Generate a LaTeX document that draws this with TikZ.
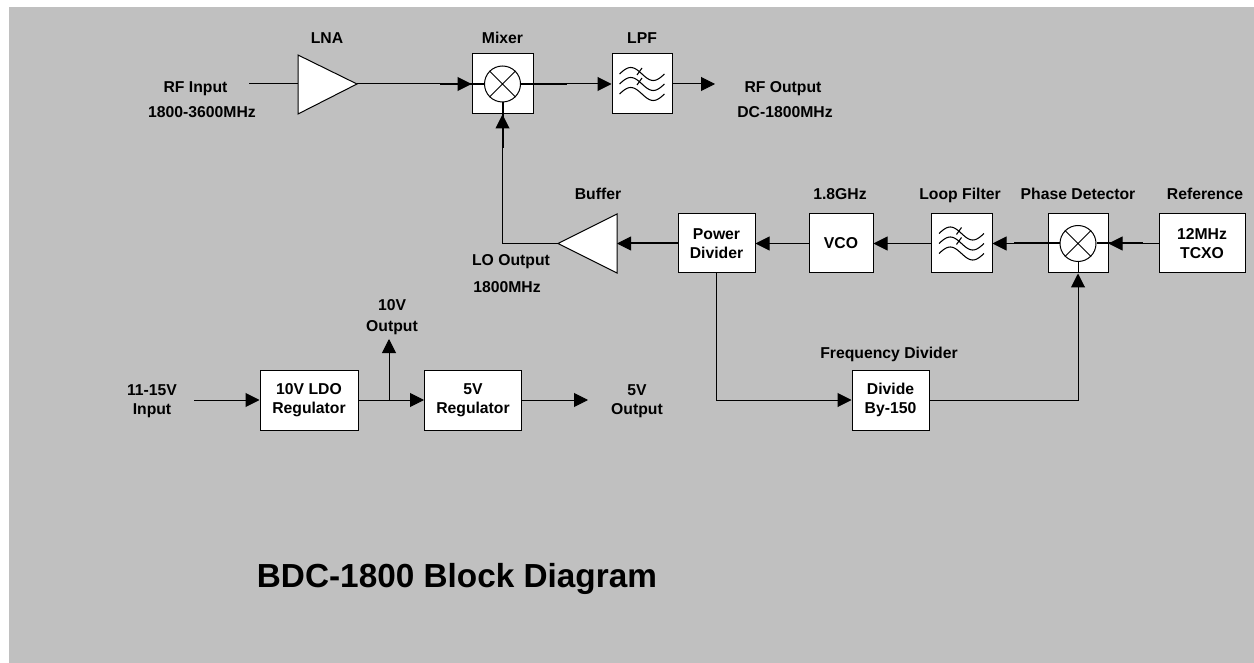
\documentclass[tikz,border=0pt]{standalone}
\usepackage{fontspec}
\setmainfont{Liberation Sans}
\usetikzlibrary{arrows.meta,calc}
\definecolor{bggray}{HTML}{C0C0C0}
\newcommand\filtsym[1]{%
  \begin{scope}[shift={(#1)}]
    \foreach \dy in {-10,0,10}
      \draw[line width=0.8pt] plot[domain=0:1,samples=40,smooth] ({-22.5+45*\x},{\dy-6.5*sin(360*\x)});
    \draw[line width=0.8pt] (-5,-9) -- (0,-16);
    \draw[line width=0.8pt] (-5,1) -- (0,-6);
  \end{scope}}
\begin{document}
\begin{tikzpicture}[x=0.75pt,y=-0.75pt,line width=0.75pt,
  lbl/.style={font=\fontsize{11.8}{13.9}\selectfont\bfseries, inner sep=0pt, align=center},
  blk/.style={draw=black, fill=white, line width=0.75pt, inner sep=0pt, align=center, font=\fontsize{11.8}{13.9}\selectfont\bfseries},
  arr/.style={-{Triangle[length=10.5pt,width=10.5pt]}},
  shaft/.style={line width=1.5pt},
  mixsym/.style={draw, circle, fill=white, minimum size=27pt, inner sep=0pt}]
\fill[white] (0,0) rectangle (1254,663);
\fill[bggray] (9,7) rectangle (1254,663);
\useasboundingbox (0,0) rectangle (1254,663);

% RF path
\coordinate (lnaA) at (298,55);
\coordinate (lnaB) at (298,114);
\coordinate (lnaout) at (357,84);
\coordinate (lnain) at (298,84);
\draw[fill=white] (lnaA) -- (lnaout) -- (lnaB) -- cycle;

\node[blk, minimum width=45.75pt, minimum height=45pt] (mix) at (502.5,84) {};
\node[mixsym] (mixc) at (mix.center) {};
\draw (mixc.north east) -- (mixc.south west) (mixc.north west) -- (mixc.south east);

\node[blk, minimum width=45pt, minimum height=45pt] (lpf) at (642,84) {};
\filtsym{lpf.center}

% LO path
\coordinate (bufA) at (617,214);
\coordinate (bufB) at (617,273);
\coordinate (bufout) at (558,243.5);
\coordinate (bufin) at (617,243.5);
\draw[fill=white] (bufA) -- (bufout) -- (bufB) -- cycle;

\node[blk, minimum width=57.75pt, minimum height=44.25pt] (pwr) at (716.5,243.5) {Power\\Divider};
\node[blk, minimum width=48pt, minimum height=44.25pt] (vco) at (841,243.5) {VCO};
\node[blk, minimum width=45.75pt, minimum height=44.25pt] (lf) at (961.5,243.5) {};
\filtsym{lf.center}
\node[blk, minimum width=45pt, minimum height=44.25pt] (pd) at (1078,243.5) {};
\node[mixsym] (pdc) at (pd.center) {};
\draw (pdc.north east) -- (pdc.south west) (pdc.north west) -- (pdc.south east);
\node[blk, minimum width=64.5pt, minimum height=44.25pt] (tcxo) at (1202,243.5) {12MHz\\TCXO};
\node[blk, minimum width=57.75pt, minimum height=45pt] (div) at (890.5,400) {Divide\\By-150};

% power
\node[blk, minimum width=73.5pt, minimum height=45pt] (ldo) at (309,400) {10V LDO\\Regulator};
\node[blk, minimum width=72.75pt, minimum height=45pt] (reg5) at (473,400) {5V\\Regulator};

% labels
\node[lbl, anchor=base] (tLNA) at (327,44) {LNA};
\node[lbl, anchor=base] (tMix) at (502.5,44) {Mixer};
\node[lbl, anchor=base] (tLPF) at (642,44) {LPF};
\node[lbl, anchor=base] (tRFin) at (195.5,92.7) {RF Input};
\node[lbl, anchor=base] (tRFin2) at (202,117.5) {1800-3600MHz};
\node[lbl, anchor=base] (tRFout) at (783,92.5) {RF Output};
\node[lbl, anchor=base] (tRFout2) at (785,117.5) {DC-1800MHz};
\node[lbl, anchor=base] (tBuf) at (598,200) {Buffer};
\node[lbl, anchor=base] (tVCO) at (840,200) {1.8GHz};
\node[lbl, anchor=base] (tLF) at (960,200) {Loop Filter};
\node[lbl, anchor=base] (tPD) at (1078,200) {Phase Detector};
\node[lbl, anchor=base] (tRef) at (1205,200) {Reference};
\node[lbl, anchor=base] (tLO) at (511,265.7) {LO Output};
\node[lbl, anchor=base] (tLO2) at (507,292.7) {1800MHz};
\node[lbl, anchor=base] (tFD) at (889,358) {Frequency Divider};
\node[lbl, anchor=base] (t10a) at (392,310.7) {10V};
\node[lbl, anchor=base] (t10b) at (392,331.7) {Output};
\node[lbl, anchor=base] (tIna) at (152,395) {11-15V};
\node[lbl, anchor=base] (tInb) at (152,414.3) {Input};
\node[lbl, anchor=base] (t5a) at (637,395) {5V};
\node[lbl, anchor=base] (t5b) at (637,414.3) {Output};
\node[lbl, anchor=base, font=\fontsize{25}{30}\selectfont\bfseries] (title) at (457,587) {BDC-1800 Block Diagram};

% connectors
\coordinate (rfin) at (249,84);
\coordinate (rfout) at (715,84);
\draw (rfin) -- (lnain);
\draw[arr] (lnaout) -- (mix.west);
\draw[shaft] (mix.west) ++(-32,0) -- (mix.west) -- (mixc.west);
\draw (mixc.east) -- (mix.east);
\draw[shaft] (mixc.east) -- ++(46,0);
\draw[arr] (mix.east) -- (lpf.west);
\draw[arr] (lpf.east) -- (rfout);
\draw[arr] (bufout) -| (mix.south);
\draw[shaft] (mix.south) ++(0,34) -- (mix.south) -- (mixc.south);
\draw[arr] (pwr.west) -- (bufin);
\draw[shaft] (pwr.west) -- ++(-50,0);
\draw[arr] (vco.west) -- (pwr.east);
\draw[arr] (lf.west) -- (vco.east);
\draw[arr] (pd.west) -- (lf.east);
\draw[shaft] (pdc.west) -- (pd.west) -- ++(-34,0);
\draw (pdc.south) -- (pd.south);
\draw[arr] (tcxo.west) -- (pd.east);
\draw[shaft] (pdc.east) -- (pd.east) -- ++(34,0);
\draw[arr] (pwr.south) |- (div.west);
\draw[arr] (div.east) -| (pd.south);

\coordinate (vin) at (194,400);
\coordinate (br) at (389,400);
\coordinate (v10) at (389,339);
\coordinate (v5) at (588,400);
\draw[arr] (vin) -- (ldo.west);
\draw[arr] (ldo.east) -- (reg5.west);
\draw[arr] (br) -- (v10);
\draw[arr] (reg5.east) -- (v5);
\end{tikzpicture}
\end{document}
